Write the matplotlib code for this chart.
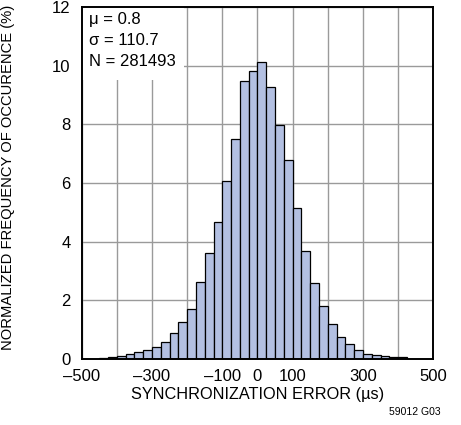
import matplotlib.pyplot as plt
import matplotlib.font_manager as fm
import numpy as np

# bins of 25 us, left edges from -450 to 400
bin_left = np.arange(-450, 425, 25)
freq = [0.05, 0.07, 0.11, 0.16, 0.24, 0.31, 0.43, 0.60, 0.89, 1.25,
        1.71, 2.64, 3.61, 4.67, 6.08, 7.49, 9.46, 9.83, 10.11, 9.27,
        7.99, 6.77, 5.16, 3.68, 2.59, 1.82, 1.20, 0.77, 0.53, 0.32,
        0.19, 0.14, 0.09, 0.07, 0.06]
xticks = [-500, -400, -300, -200, -100, 0, 100, 200, 300, 400, 500]
xlabels = ["–500", "", "–300", "", "–100", "0", "100", "", "300", "", "500"]
yticks = [0, 2, 4, 6, 8, 10, 12]

names = {f.name for f in fm.fontManager.ttflist}
font = "Liberation Sans Narrow" if "Liberation Sans Narrow" in names else "Liberation Sans"
plt.rcParams['font.family'] = [font, 'DejaVu Sans']

fig = plt.figure(figsize=(4.61, 4.25), dpi=100)
ax = fig.add_axes([0.177, 0.155, 0.763, 0.829])

ax.bar(bin_left, freq, width=25, align='edge', color='#b3c0e2',
       edgecolor='black', linewidth=0.9, zorder=3)

ax.set_xlim(-500, 500)
ax.set_ylim(0, 12)
ax.set_xticks(xticks)
ax.set_xticklabels(xlabels)
ax.set_yticks(yticks)
ax.tick_params(length=0, labelsize=12)
ax.tick_params(axis='x', pad=7)
ax.tick_params(axis='y', pad=8)
ax.grid(True, color='#9a9a9a', linewidth=1.0, zorder=0)
for s in ax.spines.values():
    s.set_linewidth(1.4)
    s.set_zorder(5)

# white box behind the stats text
ax.add_patch(plt.Rectangle((-500, 9.5), 290, 2.5, facecolor='white',
                           edgecolor='none', zorder=2))
ax.text(-480, 11.82, "μ = 0.8\nσ = 110.7\nN = 281493", fontsize=12,
        va='top', ha='left', linespacing=1.5, zorder=4)

ax.set_xlabel("SYNCHRONIZATION ERROR (µs)", fontsize=11.7)
ax.set_ylabel("NORMALIZED FREQUENCY OF OCCURENCE (%)", fontsize=10.6)
ax.xaxis.set_label_coords(0.5, -0.078)
ax.yaxis.set_label_coords(-0.19, 0.515)
fig.text(0.955, 0.018, "59012 G03", fontsize=7.5, ha='right', va='bottom')

fig.savefig("out.png", dpi=100)
